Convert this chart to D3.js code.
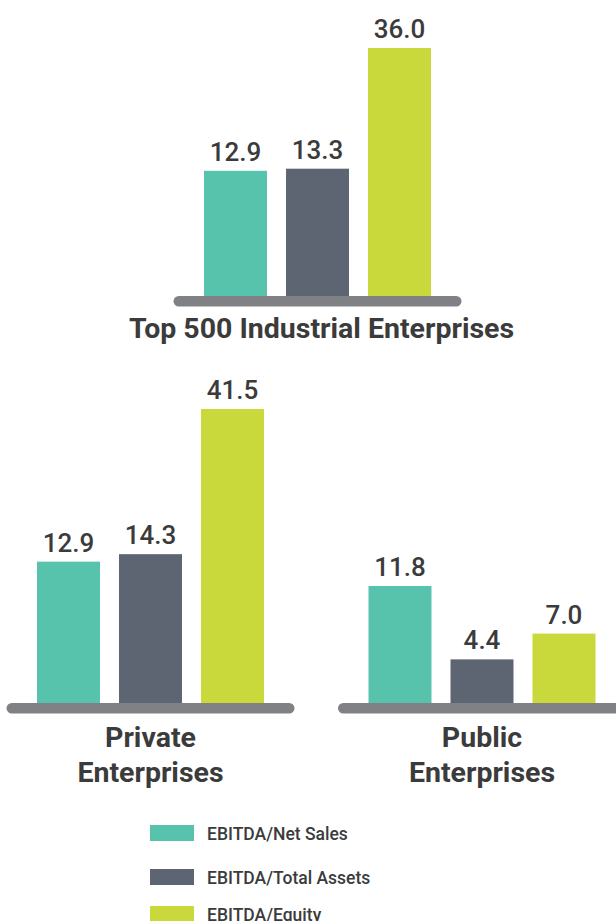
<!DOCTYPE html>
<html>
<head>
<meta charset="utf-8">
<script src="https://cdn.jsdelivr.net/npm/d3@7"></script>
<style>
  body { margin: 0; background: #fff; }
  svg text { font-family: Roboto, "Noto Sans", sans-serif; fill: #3b3b3b; }
</style>
</head>
<body>
<div id="chart"></div>
<script>
var w = 616;
var h = 921;

// data
var series = ["EBITDA/Net Sales", "EBITDA/Total Assets", "EBITDA/Equity"];
var top500 = [12.9, 13.3, 36.0];
var privateEnt = [12.9, 14.3, 41.5];
var publicEnt = [11.8, 4.4, 7.0];
var groupTitles = [["Top 500 Industrial Enterprises"], ["Private", "Enterprises"], ["Public", "Enterprises"]];
var color = ["#57c3ac", "#5d6472", "#c9d93c"];

// panel layout (bar heights are not proportional in the original, so each panel gets its own scale)
var panels = [
    { values: top500, title: groupTitles[0], x: 173.5, base: 296, dMax: 36.0, hRange: [56.6, 248], titleY: 338 },
    { values: privateEnt, title: groupTitles[1], x: 6.5, base: 703, dMax: 41.5, hRange: [72.5, 294], titleY: 747 },
    { values: publicEnt, title: groupTitles[2], x: 338, base: 703, dMax: 11.8, hRange: [0, 117], titleY: 747 }
];
var panelWidth = 288;
var lineGap = 35;

var svg = d3.select("#chart")
            .append("svg")
            .attr("width", w)
            .attr("height", h);

var xScale = d3.scaleBand()
    .domain(series)
    .range([0, panelWidth])
    .paddingInner(0.232)
    .paddingOuter(0.372);

panels.forEach(function(p) {
    var g = svg.append("g")
        .attr("transform", "translate(" + p.x + "," + p.base + ")");

    var yScale = d3.scaleLinear()
        .domain([0, p.dMax])
        .range([-p.hRange[0], -p.hRange[1]]);

    var rows = series.map(function(s, i) { return { name: s, value: p.values[i], color: color[i] }; });

    // bars
    g.selectAll(".bar")
        .data(rows)
        .enter()
        .append("rect")
        .attr("class", "bar")
        .attr("x", function(d) { return xScale(d.name); })
        .attr("y", function(d) { return yScale(d.value); })
        .attr("width", xScale.bandwidth())
        .attr("height", function(d) { return -yScale(d.value); })
        .attr("fill", function(d) { return d.color; });

    // value labels
    g.selectAll(".val")
        .data(rows)
        .enter()
        .append("text")
        .attr("class", "val")
        .attr("x", function(d) { return xScale(d.name) + xScale.bandwidth() / 2; })
        .attr("y", function(d) { return yScale(d.value) - 10; })
        .attr("text-anchor", "middle")
        .style("font-size", "26px")
        .style("font-weight", 500)
        .text(function(d) { return d3.format(".1f")(d.value); });

    // rounded base line
    g.append("rect")
        .attr("x", 0)
        .attr("y", 0)
        .attr("width", panelWidth)
        .attr("height", 10.5)
        .attr("rx", 5.25)
        .attr("fill", "#808184");

    // group title
    var t = svg.append("text")
        .attr("text-anchor", "middle")
        .style("font-size", "28.5px")
        .style("font-weight", 700);
    p.title.forEach(function(line, i) {
        t.append("tspan")
            .attr("x", p.x + panelWidth / 2 + (p.title.length === 1 ? 4 : 0))
            .attr("y", p.titleY + i * lineGap)
            .text(line);
    });
});

// legend
var legendY = [825, 869, 906];
var legend = svg.selectAll(".legend")
    .data(series)
    .enter()
    .append("g")
    .attr("class", "legend")
    .attr("transform", function(d, i) { return "translate(150," + legendY[i] + ")"; });
legend.append("rect")
    .attr("width", 44)
    .attr("height", 16)
    .attr("fill", function(d, i) { return color[i]; });
legend.append("text")
    .attr("x", 57)
    .attr("y", 14.5)
    .style("font-size", "17.5px")
    .style("font-weight", 500)
    .text(function(d) { return d; });
</script>
</body>
</html>
